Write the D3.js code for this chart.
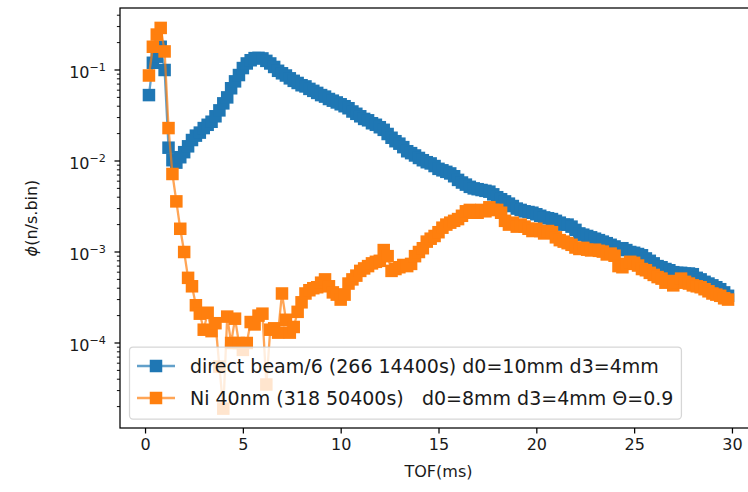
<!DOCTYPE html>
<html><head><meta charset="utf-8">
<script src="https://cdn.jsdelivr.net/npm/d3@7"></script>
<style>
html,body{margin:0;padding:0;background:#fff;}
svg{display:block;font-family:"DejaVu Sans",sans-serif;}
</style></head>
<body>
<svg id="c" width="748" height="492"></svg>
<script>
// TOF bin centres (ms)
const tof = [
 0.2,0.4,0.6,0.8,1.0,1.2,1.4,1.6,1.8,2.0,
 2.2,2.4,2.6,2.8,3.0,3.2,3.4,3.6,3.8,4.0,
 4.2,4.4,4.6,4.8,5.0,5.2,5.4,5.6,5.8,6.0,
 6.2,6.4,6.6,6.8,7.0,7.2,7.4,7.6,7.8,8.0,
 8.2,8.4,8.6,8.8,9.0,9.2,9.4,9.6,9.8,10.0,
 10.2,10.4,10.6,10.8,11.0,11.2,11.4,11.6,11.8,12.0,
 12.2,12.4,12.6,12.8,13.0,13.2,13.4,13.6,13.8,14.0,
 14.2,14.4,14.6,14.8,15.0,15.2,15.4,15.6,15.8,16.0,
 16.2,16.4,16.6,16.8,17.0,17.2,17.4,17.6,17.8,18.0,
 18.2,18.4,18.6,18.8,19.0,19.2,19.4,19.6,19.8,20.0,
 20.2,20.4,20.6,20.8,21.0,21.2,21.4,21.6,21.8,22.0,
 22.2,22.4,22.6,22.8,23.0,23.2,23.4,23.6,23.8,24.0,
 24.2,24.4,24.6,24.8,25.0,25.2,25.4,25.6,25.8,26.0,
 26.2,26.4,26.6,26.8,27.0,27.2,27.4,27.6,27.8,28.0,
 28.2,28.4,28.6,28.8,29.0,29.2,29.4,29.6,29.8
];
// direct beam / 6
const directBeam = [
 0.053,0.12,0.14,0.18,0.10,0.014,0.0102,0.0096,0.011,0.0125,
 0.0145,0.017,0.019,0.0205,0.023,0.025,0.027,0.031,0.036,0.043,
 0.050,0.063,0.075,0.088,0.105,0.118,0.128,0.135,0.136,0.134,
 0.126,0.118,0.108,0.098,0.092,0.087,0.081,0.076,0.072,0.068,
 0.066,0.062,0.059,0.056,0.053,0.051,0.048,0.046,0.044,0.042,
 0.040,0.038,0.035,0.033,0.031,0.029,0.028,0.026,0.025,0.0235,
 0.022,0.0198,0.018,0.0165,0.0155,0.0142,0.0128,0.0122,0.0115,0.0108,
 0.0102,0.0097,0.0094,0.0088,0.0082,0.0079,0.0076,0.0073,0.0068,0.0062,
 0.0058,0.0055,0.0052,0.0050,0.0049,0.0048,0.0047,0.0046,0.0043,0.0040,
 0.0038,0.0036,0.0034,0.0032,0.0030,0.0029,0.0028,0.00275,0.0027,0.0026,
 0.0025,0.0024,0.00235,0.0023,0.0022,0.0021,0.0020,0.0020,0.0019,0.00175,
 0.0016,0.00155,0.0015,0.00145,0.0014,0.00135,0.0013,0.00125,0.0012,0.00115,
 0.0011,0.0011,0.00105,0.0010,0.00098,0.00095,0.00092,0.00085,0.0008,0.00075,
 0.0007,0.00068,0.00065,0.00063,0.0006,0.00059,0.00059,0.00058,0.00058,0.00057,
 0.00052,0.0005,0.00047,0.00045,0.00043,0.00041,0.00039,0.00036,0.00033
];
// Ni 40nm
const ni40 = [
 0.087,0.18,0.245,0.29,0.16,0.023,0.0072,0.0036,0.0018,0.001,
 0.00052,0.00042,0.00026,0.00021,0.00014,0.000215,0.000135,0.000165,0.000055,0.000019,
 0.000195,0.0001,0.000185,0.0001,0.000084,0.0001,0.00017,0.00016,0.0002,0.00021,
 0.000035,0.00014,0.000145,0.00013,0.00035,0.00018,0.00013,0.00015,0.00022,0.00028,
 0.00035,0.00038,0.0004,0.00041,0.00046,0.0005,0.00042,0.00036,0.00034,0.0003,
 0.00034,0.00045,0.0005,0.00055,0.00062,0.00066,0.0007,0.00075,0.00078,0.0008,
 0.00105,0.0009,0.00062,0.00065,0.00068,0.00072,0.0007,0.00074,0.0009,0.001,
 0.0011,0.0013,0.0014,0.0015,0.00165,0.00185,0.002,0.0021,0.0022,0.0023,
 0.0025,0.0028,0.0029,0.0027,0.0027,0.0029,0.0028,0.0031,0.0029,0.0029,
 0.0027,0.0022,0.002,0.0021,0.0019,0.002,0.0019,0.0018,0.0017,0.0018,
 0.0017,0.0016,0.0017,0.00165,0.00145,0.00135,0.0013,0.00125,0.0012,0.00112,
 0.00108,0.00111,0.00106,0.00104,0.00106,0.00103,0.00101,0.00094,0.00096,0.00091,
 0.0007,0.00068,0.00074,0.00078,0.00076,0.00071,0.00065,0.00063,0.00059,0.00056,
 0.00053,0.00051,0.00046,0.00048,0.00043,0.00046,0.00051,0.00047,0.00045,0.00043,
 0.00042,0.00041,0.00039,0.00037,0.00035,0.00034,0.00033,0.00031,0.0003
];
const xTicks = [0,5,10,15,20,25,30];
const yTicks = [1e-4,1e-3,1e-2,1e-1];
const yTickExp = ["−4","−3","−2","−1"];
const labels = ["direct beam/6 (266 14400s) d0=10mm d3=4mm",
                "Ni 40nm (318 50400s)   d0=8mm d3=4mm Θ=0.9"];
const colors = ["#1f77b4","#ff7f0e"];

const svg = d3.select("#c");
const L=120, T=8, R=757, B=428;
const x = d3.scaleLinear().domain([-1.28,31.28]).range([L,R]);
const y = d3.scaleLog().domain([1.164e-5,0.48]).range([B,T]);

svg.append("rect").attr("width",748).attr("height",492).attr("fill","#fff");
svg.append("defs").append("clipPath").attr("id","pc")
  .append("rect").attr("x",L).attr("y",T).attr("width",R-L).attr("height",B-T);

const series = [directBeam, ni40];
const plot = svg.append("g").attr("clip-path","url(#pc)");
const ms = 12.5;
series.forEach((vals,si)=>{
  const pts = tof.map((t,i)=>[t,vals[i]]);
  const g = plot.append("g");
  g.append("path").attr("d", d3.line().x(d=>x(d[0])).y(d=>y(d[1]))(pts))
   .attr("fill","none").attr("stroke",colors[si]).attr("stroke-width",2.3)
   .attr("stroke-opacity",0.7).attr("stroke-linejoin","round");
  g.selectAll("rect").data(pts).join("rect")
   .attr("x",d=>x(d[0])-ms/2).attr("y",d=>y(d[1])-ms/2)
   .attr("width",ms).attr("height",ms).attr("fill",colors[si]);
});

// frame
svg.append("rect").attr("x",L).attr("y",T).attr("width",R-L).attr("height",B-T)
  .attr("fill","none").attr("stroke","#000").attr("stroke-width",1.25);

const txt = "#1a1a1a";
// x axis
const xa = svg.append("g").attr("transform",`translate(0,${B})`)
  .call(d3.axisBottom(x).tickValues(xTicks).tickSize(5.5).tickPadding(5.5).tickFormat(d3.format("d")));
xa.select(".domain").remove();
xa.selectAll("line").attr("stroke","#000").attr("stroke-width",1.25);
xa.selectAll("text").attr("font-size",16).attr("fill",txt).attr("font-family","DejaVu Sans");

// y axis minor
const minor = [];
[1e-5,1e-4,1e-3,1e-2,1e-1].forEach(dec=>{ for(let k=2;k<=9;k++){ const v=k*dec; if(v>=1.164e-5&&v<=0.48) minor.push(v);} });
svg.append("g").selectAll("line").data(minor).join("line")
  .attr("x1",L).attr("x2",L-3.1).attr("y1",d=>y(d)).attr("y2",d=>y(d))
  .attr("stroke","#000").attr("stroke-width",0.95);
svg.append("g").selectAll("line").data(yTicks).join("line")
  .attr("x1",L).attr("x2",L-5.5).attr("y1",d=>y(d)).attr("y2",d=>y(d))
  .attr("stroke","#000").attr("stroke-width",1.25);
const yl = svg.append("g").selectAll("text").data(yTicks).join("text")
  .attr("x",106).attr("y",d=>y(d)+8.5).attr("text-anchor","end")
  .attr("fill",txt).attr("font-size",16);
yl.append("tspan").text("10");
yl.append("tspan").attr("font-size",11.2).attr("dy",-7.5).text((d,i)=>yTickExp[i]);

// axis labels
svg.append("text").attr("x",(L+R)/2).attr("y",477).attr("text-anchor","middle")
  .attr("font-size",16).attr("fill",txt).text("TOF(ms)");
const ylab = svg.append("text").attr("transform","translate(37,218) rotate(-90)")
  .attr("text-anchor","middle").attr("font-size",16).attr("fill",txt);
ylab.append("tspan").attr("font-style","italic").text("ϕ");
ylab.append("tspan").text("(n/s.bin)");

// legend
const lg = svg.append("g");
const lx=129.5, ly=347, fs=19;
const box = lg.append("rect").attr("x",lx).attr("y",ly).attr("height",72).attr("rx",3.5)
  .attr("fill","#fff").attr("fill-opacity",0.8).attr("stroke","#ccc").attr("stroke-opacity",0.8).attr("stroke-width",1.25);
const rows=[366,398];
let maxW=0;
labels.forEach((lab,i)=>{
  lg.append("line").attr("x1",137).attr("x2",175).attr("y1",rows[i]).attr("y2",rows[i])
    .attr("stroke",colors[i]).attr("stroke-width",2.3).attr("stroke-opacity",0.7);
  lg.append("rect").attr("x",156-ms/2).attr("y",rows[i]-ms/2).attr("width",ms).attr("height",ms).attr("fill",colors[i]);
  const t = lg.append("text").attr("x",190).attr("y",rows[i]).attr("dy","0.36em")
    .attr("font-size",fs).attr("fill",txt).attr("xml:space","preserve").style("white-space","pre").text(lab);
  maxW=Math.max(maxW,t.node().getComputedTextLength());
});
box.attr("width",190+maxW+8-lx);
</script>
</body></html>
